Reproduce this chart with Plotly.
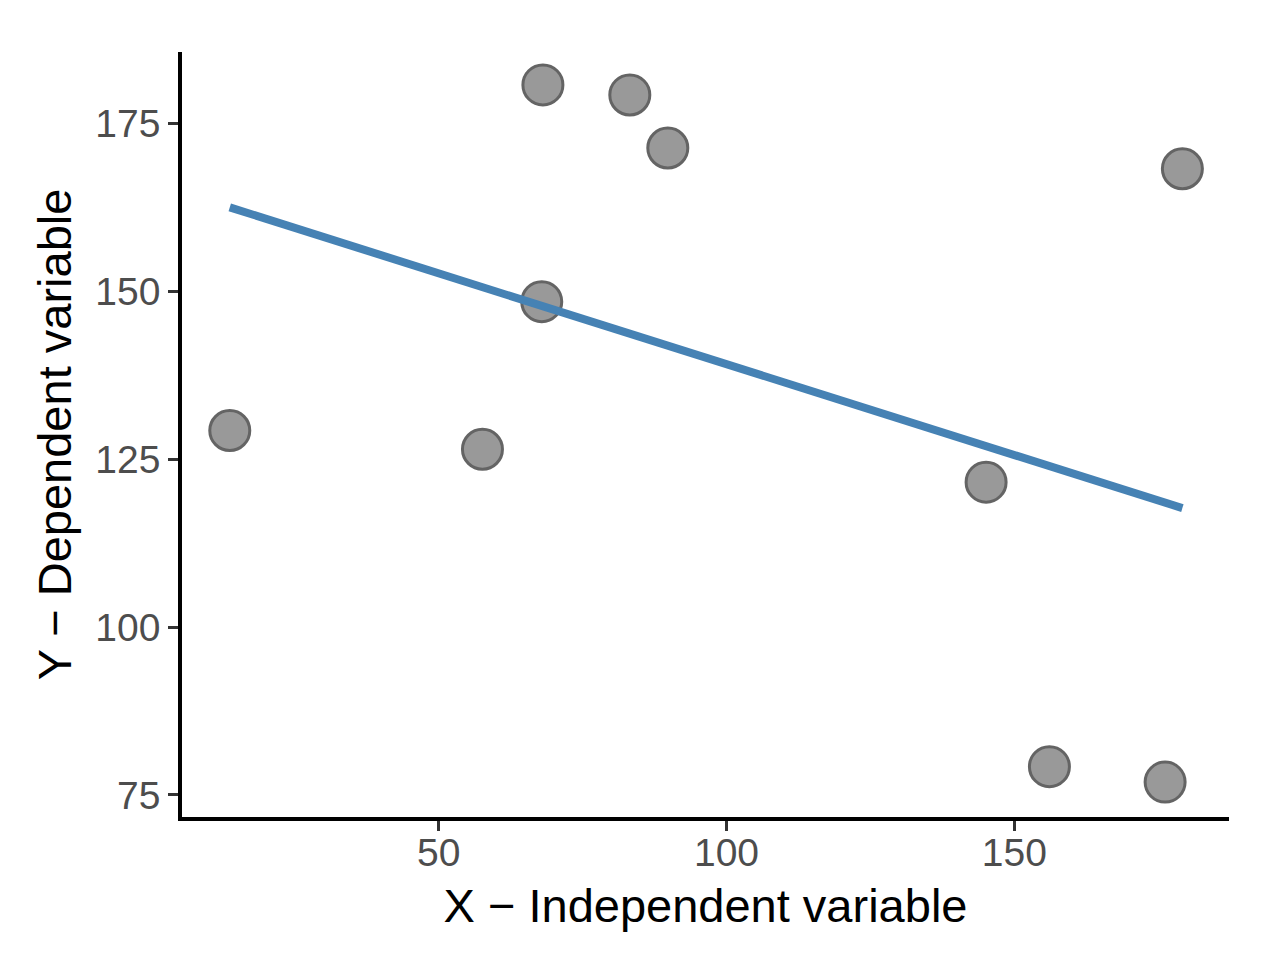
import numpy as np
import plotly.graph_objects as go

x_vals = [13.7, 57.6, 67.9, 68.1, 83.2, 89.8, 145.1, 156.1, 176.2, 179.2]
y_vals = [129.3, 126.5, 148.5, 180.8, 179.3, 171.4, 121.6, 79.2, 76.9, 168.3]
x_ticks = [50, 100, 150]
y_ticks = [75, 100, 125, 150, 175]
x_title = "X \u2212 Independent variable"
y_title = "Y \u2212 Dependent variable"

xa = np.array(x_vals)
ya = np.array(y_vals)
slope, intercept = np.polyfit(xa, ya, 1)
fit_x = np.linspace(xa.min(), xa.max(), 80)
fit_y = slope * fit_x + intercept

FONT = "Liberation Sans, Arial, Helvetica, sans-serif"

fig = go.Figure()
fig.add_trace(go.Scatter(
    x=x_vals, y=y_vals, mode="markers",
    marker=dict(size=40, color="rgb(153,153,153)",
                line=dict(color="rgb(100,100,100)", width=3)),
    showlegend=False, hoverinfo="x+y", cliponaxis=False,
))
fig.add_trace(go.Scatter(
    x=fit_x, y=fit_y, mode="lines",
    line=dict(color="#4682B4", width=8),
    showlegend=False, cliponaxis=False,
))

fig.update_layout(
    width=1280, height=963,
    margin=dict(l=174, r=59, t=44, b=154),
    paper_bgcolor="white", plot_bgcolor="white",
    font=dict(family=FONT),
    xaxis=dict(
        range=[5.4, 187.3], tickvals=x_ticks, ticktext=[str(v) for v in x_ticks],
        showgrid=False, zeroline=False,
        showline=True, linecolor="black", linewidth=3.5,
        ticks="outside", ticklen=10, tickwidth=3, tickcolor="#333333",
        tickfont=dict(size=39, color="#4D4D4D", family=FONT),
        ticklabelstandoff=-12,
        title=dict(text=x_title, font=dict(size=47, color="black", family=FONT), standoff=18),
    ),
    yaxis=dict(
        range=[71.7, 185.7], tickvals=y_ticks, ticktext=[str(v) for v in y_ticks],
        showgrid=False, zeroline=False,
        showline=True, linecolor="black", linewidth=3.5,
        ticks="outside", ticklen=10, tickwidth=3, tickcolor="#333333",
        tickfont=dict(size=39, color="#4D4D4D", family=FONT),
        title=dict(text=y_title, font=dict(size=47, color="black", family=FONT), standoff=10),
    ),
)

fig.write_html("out.html")
